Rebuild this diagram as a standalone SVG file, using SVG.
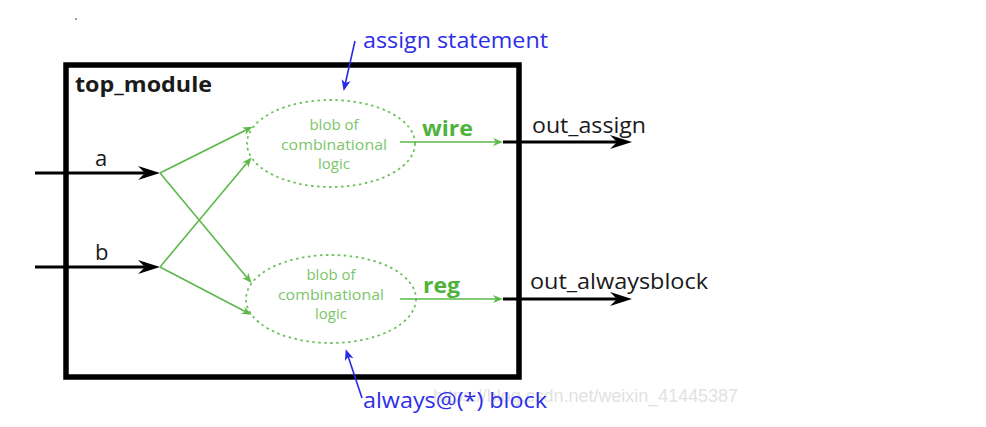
<svg xmlns="http://www.w3.org/2000/svg" width="986" height="427" viewBox="0 0 986 427">
<style>
  text { font-family: "Open Sans", "DejaVu Sans", sans-serif; }
  .blk { stroke: #000; stroke-width: 3; fill: none; }
  .grn { stroke: #5cb84a; stroke-width: 1.6; fill: none; }
  .blu { stroke: #2a2ae6; stroke-width: 1.6; fill: none; }
  .blob { stroke: #6cc05a; stroke-width: 1.8; stroke-dasharray: 2.5 3.5; fill: none; }
  .blobtxt { fill: #7cc66a; font-size: 15px; text-anchor: middle; }
  .lbl { fill: #1a1a1a; font-size: 22px; }
  .note { fill: #2e2ee8; font-size: 22px; }
  .sig { fill: #4fb23c; font-size: 22px; font-weight: bold; }
</style>
<defs>
  <marker id="ahBlk" viewBox="-24 -8 26 16" markerWidth="26" markerHeight="16" refX="-12" refY="0" orient="auto" markerUnits="userSpaceOnUse">
    <path d="M0,0 L-22,-7 L-15,0 L-22,7 Z" fill="#000"/>
  </marker>
  <marker id="ahGrn" viewBox="-11 -5 12 10" markerWidth="12" markerHeight="10" refX="-4" refY="0" orient="auto" markerUnits="userSpaceOnUse">
    <path d="M0,0 L-10,-4 L-7,0 L-10,4 Z" fill="#5cb84a"/>
  </marker>
  <marker id="ahBlu" viewBox="-12 -5 13 10" markerWidth="13" markerHeight="10" refX="-4" refY="0" orient="auto" markerUnits="userSpaceOnUse">
    <path d="M0,0 L-11,-4.5 L-8,0 L-11,4.5 Z" fill="#2a2ae6"/>
  </marker>
</defs>
<rect width="986" height="427" fill="#fff"/>
<rect x="75" y="18" width="2" height="2" fill="#999"/>

<g id="top_module">
  <rect x="66" y="65" width="453" height="312" fill="none" stroke="#000" stroke-width="5.5"/>
  <text x="75" y="92" class="lbl" style="font-weight:bold" textLength="137" lengthAdjust="spacingAndGlyphs">top_module</text>
</g>

<g id="blob_assign">
  <ellipse cx="331" cy="143.5" rx="84" ry="43.5" class="blob"/>
  <text class="blobtxt"><tspan x="334" y="130">blob of</tspan><tspan x="334" y="150" textLength="106" lengthAdjust="spacingAndGlyphs">combinational</tspan><tspan x="334" y="168.5">logic</tspan></text>
</g>

<g id="blob_always">
  <ellipse cx="331" cy="299" rx="85" ry="44" class="blob"/>
  <text class="blobtxt"><tspan x="331" y="280">blob of</tspan><tspan x="331" y="300" textLength="106" lengthAdjust="spacingAndGlyphs">combinational</tspan><tspan x="331" y="319">logic</tspan></text>
</g>

<g id="labels">
  <text x="95" y="166" class="lbl">a</text>
  <text x="95" y="260" class="lbl">b</text>
  <text x="422" y="136" class="sig" textLength="51" lengthAdjust="spacingAndGlyphs">wire</text>
  <text x="423" y="293" class="sig" textLength="37" lengthAdjust="spacingAndGlyphs">reg</text>
  <text x="532" y="133" class="lbl" textLength="114" lengthAdjust="spacingAndGlyphs">out_assign</text>
  <text x="530" y="289" class="lbl" textLength="178" lengthAdjust="spacingAndGlyphs">out_alwaysblock</text>
  <text x="363" y="48" class="note" textLength="185" lengthAdjust="spacingAndGlyphs">assign statement</text>
  <text x="433" y="402" style="font-family:'Liberation Sans',sans-serif;font-size:18px;fill:#e2e2e2" textLength="305" lengthAdjust="spacingAndGlyphs">https://blog.csdn.net/weixin_41445387</text>
  <text x="363" y="408" class="note" textLength="184" lengthAdjust="spacingAndGlyphs">always@(*) block</text>
</g>

<g id="connectors">
  <line x1="35" y1="173" x2="148" y2="173" class="blk" marker-end="url(#ahBlk)"/>
  <line x1="35" y1="267" x2="148" y2="267" class="blk" marker-end="url(#ahBlk)"/>
  <line x1="160" y1="173" x2="249" y2="128.5" class="grn" marker-end="url(#ahGrn)"/>
  <line x1="160" y1="173" x2="249" y2="280" class="grn" marker-end="url(#ahGrn)"/>
  <line x1="160" y1="267" x2="249" y2="160.5" class="grn" marker-end="url(#ahGrn)"/>
  <line x1="160" y1="267" x2="248" y2="313" class="grn" marker-end="url(#ahGrn)"/>
  <line x1="400" y1="142" x2="499" y2="142" class="grn" marker-end="url(#ahGrn)"/>
  <line x1="400" y1="299" x2="499" y2="299" class="grn" marker-end="url(#ahGrn)"/>
  <line x1="503" y1="142" x2="620" y2="142" class="blk" marker-end="url(#ahBlk)"/>
  <line x1="503" y1="299" x2="620" y2="299" class="blk" marker-end="url(#ahBlk)"/>
  <line x1="355" y1="41" x2="344.5" y2="87" class="blu" marker-end="url(#ahBlu)"/>
  <line x1="362" y1="398" x2="347" y2="353" class="blu" marker-end="url(#ahBlu)"/>
</g>
</svg>
